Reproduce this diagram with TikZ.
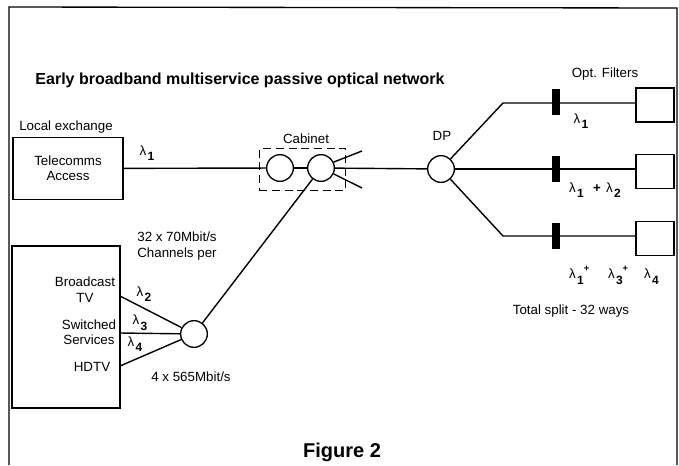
\documentclass[tikz,border=0pt]{standalone}
\usepackage{fontspec}
\setmainfont{Liberation Sans}
\newcommand{\wl}[1]{λ\kern1pt\raisebox{-0.8ex}{\small\bfseries #1}}
\newcommand{\plus}{\raisebox{1ex}{\scriptsize\bfseries +}}

\begin{document}
\begin{tikzpicture}[x=0.75pt,y=-0.75pt,
    fibre/.style={draw,line width=1.05pt},
    splitter/.style={circle,draw,line width=1pt,fill=white,minimum size=20pt,inner sep=0pt},
    unit/.style={draw,line width=0.85pt,inner sep=0pt},
    filter/.style={fill=black,minimum width=6pt,minimum height=20pt,inner sep=0pt},
    lbl/.style={font=\fontsize{10}{11.5}\selectfont,align=center,inner sep=1pt}]

    \useasboundingbox (0,0) rectangle (679,465);
    \draw[line width=1pt] (9,465) -- (9,7) -- (677,8) -- (677,465);

    \node[lbl,font=\bfseries\fontsize{12}{14}\selectfont] (title) at (240,80) {Early broadband multiservice passive optical network};

    % local exchange
    \node[lbl] (lex) at (66,127) {Local exchange};
    \node[unit,lbl,minimum width=82.5pt,minimum height=47pt] (tel) at (68,168.5) {Telecomms\\Access};

    \node[unit,minimum width=81pt,minimum height=121.5pt] (svc) at (66,327) {};
    \node[lbl] (btv) at (85,289.5) {Broadcast\\TV};
    \node[lbl] (sws) at (89,332.5) {Switched\\Services};
    \node[lbl] (hdtv) at (92,367) {HDTV};

    \node[splitter] (comb) at (194,334) {};
    \coordinate (p2) at (120,296);
    \coordinate (p3) at (120,333);
    \coordinate (p4) at (120,366);
    \draw[fibre] (p2) -- (comb);
    \draw[fibre] (p3) -- (comb);
    \draw[fibre] (p4) -- (comb);
    \node[lbl] (l2) at (144,294) {\wl{2}};
    \node[lbl] (l3) at (140,323) {\wl{3}};
    \node[lbl] (l4) at (135,344) {\wl{4}};
    \node[lbl] (rate1) at (177,246) {32 x 70Mbit/s\\Channels per};
    \node[lbl] (rate2) at (191,377) {4 x 565Mbit/s};

    % cabinet
    \node[draw,dash pattern=on 6pt off 3.5pt,line width=0.85pt,minimum width=65pt,minimum height=31pt] (cab) at (302.5,169.5) {};
    \node[lbl] (cabtxt) at (306,139) {Cabinet};
    \node[splitter] (c1) at (280,168) {};
    \node[splitter] (c2) at (321,168) {};
    \coordinate (cu) at (362,151);
    \coordinate (cl) at (362,188);

    \draw[fibre] (tel) -- (c1);
    \node[lbl] (l1) at (147,153) {\wl{1}};
    \draw[fibre] (c1) -- (c2);
    \draw[fibre] (c2.25) -- (cu);
    \draw[fibre] (c2.-25) -- (cl);
    \draw[fibre] (comb) -- (c2);

    % distribution point
    \node[splitter] (dp) at (441,169) {};
    \node[lbl] (dptxt) at (442,136) {DP};
    \draw[fibre] (c2) -- (dp);
    \coordinate (ku) at (503,103);
    \coordinate (kl) at (503,236);

    \node[unit,minimum width=28.5pt,minimum height=25.5pt] (ou) at (655,105) {};
    \node[unit,minimum width=28.5pt,minimum height=25.5pt] (om) at (655,171.5) {};
    \node[unit,minimum width=28.5pt,minimum height=25.5pt] (ol) at (655,238.5) {};

    \draw[fibre] (dp) -- (ku) -- (ou.west |- ku);
    \draw[fibre] (dp) -- (om.west |- dp);
    \draw[fibre] (dp) -- (kl) -- (ol.west |- kl);

    \node[filter] (fu) at (556,102) {};
    \node[filter] (fm) at (556,169) {};
    \node[filter] (fl) at (556,236) {};

    \node[lbl] (opt) at (605,74) {Opt. Filters};
    \node[lbl] (lu) at (581,121) {\wl{1}};
    \node[lbl] (lm) at (595,190) {\wl{1}\hspace{7pt}{\bfseries +}\hspace{4pt}\wl{2}};
    \node[lbl] (ll) at (614,275) {\wl{1}\plus\hspace{14pt}\wl{3}\plus\hspace{12pt}\wl{4}};
    \node[lbl] (split) at (571,311) {Total split - 32 ways};

    \node[lbl,font=\bfseries\fontsize{15}{17}\selectfont] (fig) at (342,452) {Figure 2};
\end{tikzpicture}
\end{document}
